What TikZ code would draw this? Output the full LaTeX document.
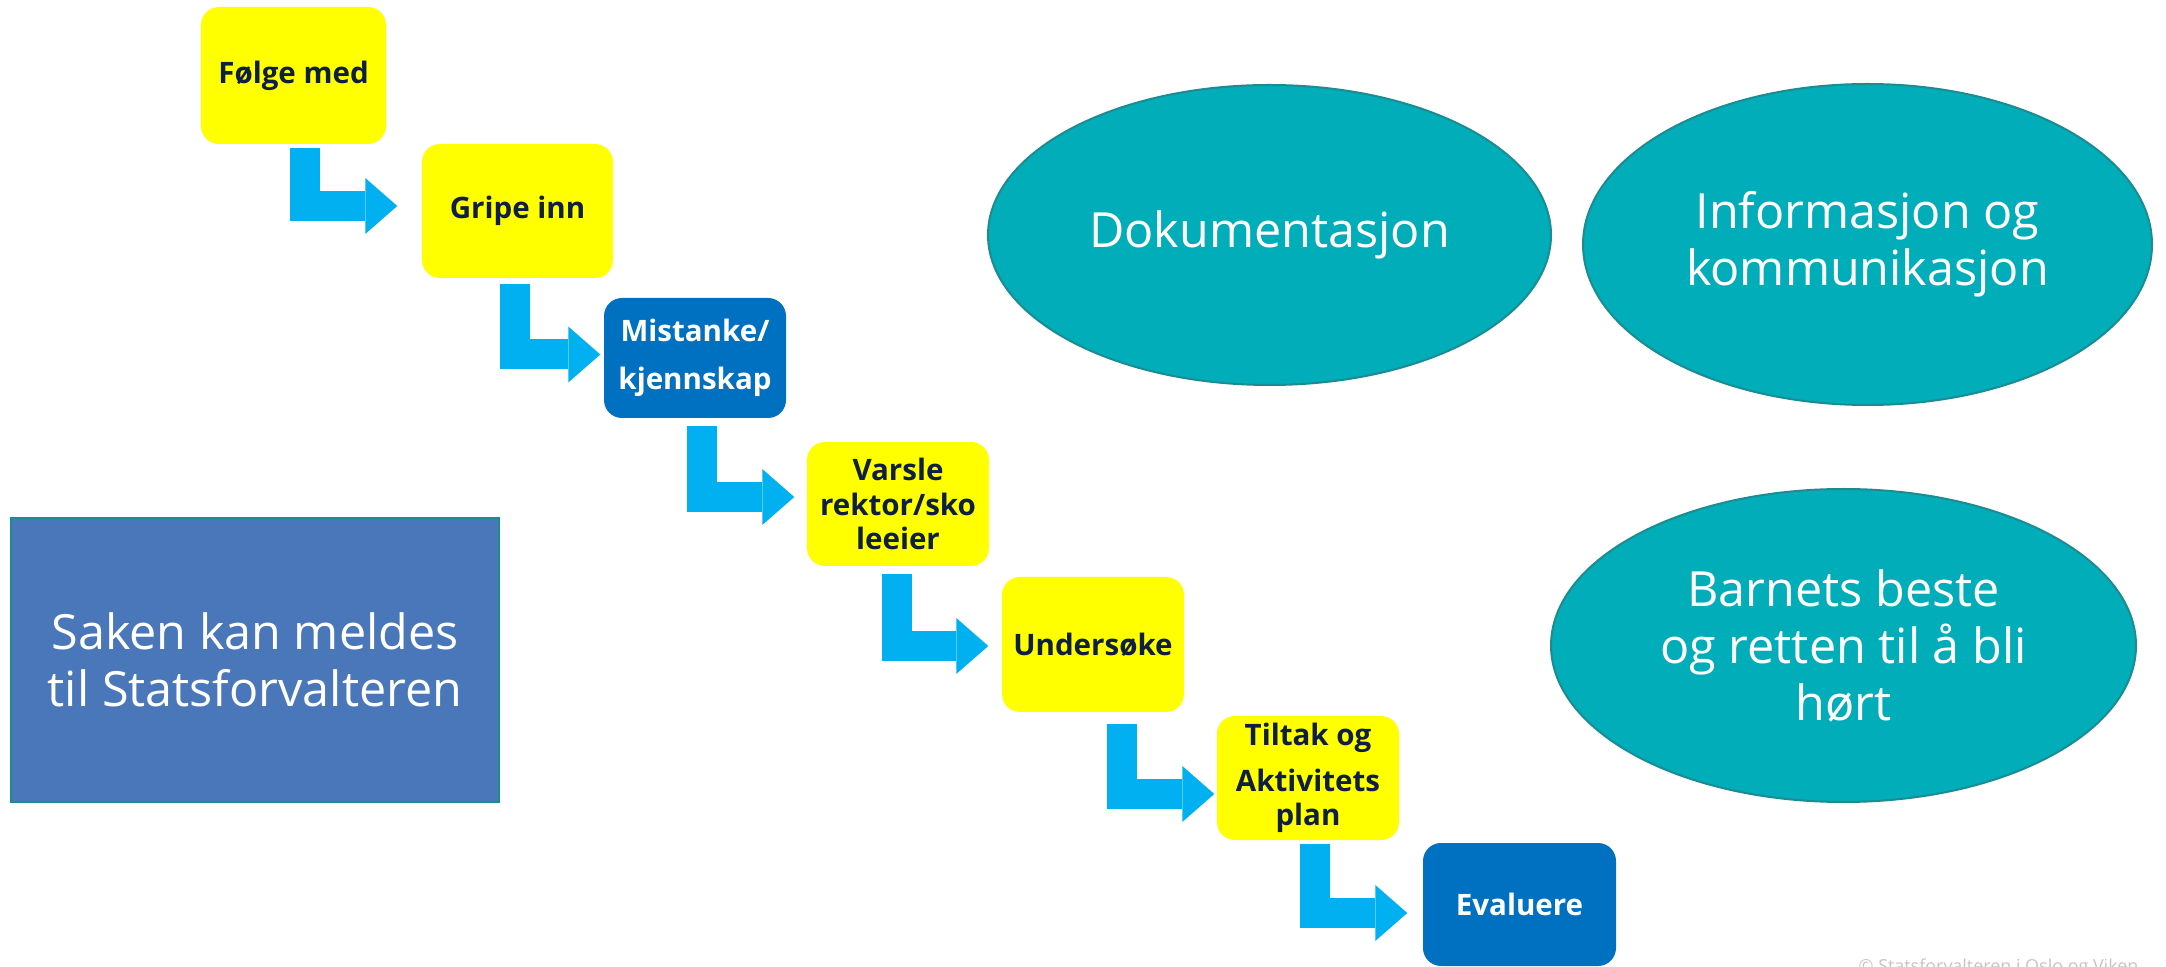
\documentclass[tikz,border=0pt]{standalone}
\usepackage{fontspec}
\setmainfont{Open Sans}
\usepackage{tikz}
\usetikzlibrary{arrows.meta}
\usetikzlibrary{shapes,calc}

\definecolor{stepyellow}{HTML}{FFFF00}
\definecolor{stepblue}{HTML}{0070C0}
\definecolor{flowblue}{HTML}{00B0F0}
\definecolor{navytext}{HTML}{0E1E45}
\definecolor{tealfill}{HTML}{00ADB9}
\definecolor{tealline}{HTML}{1A8C92}
\definecolor{meldfill}{HTML}{4A77B9}
\definecolor{marktext}{HTML}{C4C4C4}

\begin{document}
\begin{tikzpicture}[x=0.1mm,y=-0.1mm]
	\useasboundingbox (0,0) rectangle (2166,967);
	\tikzstyle{y-node}=[rectangle,rounded corners=1.8mm,fill=stepyellow,text=navytext,inner sep=0pt,align=center,minimum width=18.2mm,font=\fontsize{8.4}{9.8}\selectfont\bfseries]
	\tikzstyle{b-node}=[y-node,fill=stepblue,text=white]
	\tikzstyle{e-node}=[ellipse,fill=tealfill,draw=tealline,line width=0.2mm,inner sep=0pt,align=center,text=white,font=\fontsize{13.8}{16.2}\selectfont]
	\tikzstyle{flow}=[draw=flowblue,line width=3mm,line join=miter,-{Triangle[length=3.2mm,width=5.6mm,line width=0pt]}]

	% steps
	\node[y-node,minimum width=18.5mm,minimum height=13.7mm]	(folge)		at (293.5,75.5)		{Følge med};
	\node[y-node,minimum width=19.1mm,minimum height=13.4mm]	(gripe)		at (517.5,211)		{Gripe inn};
	\node[b-node,minimum height=12mm]				(mistanke)	at (695,358)		{Mistanke/\\[3.8pt]kjennskap};
	\node[y-node,minimum height=12.4mm]				(varsle)	at (898,504)		{Varsle\\rektor/sko\\leeier};
	\node[y-node,minimum height=13.5mm]				(undersoke)	at (1093,644.5)		{Undersøke};
	\node[y-node,minimum height=12.4mm]				(tiltak)	at (1308,778)		{Tiltak og\\[3.3pt]Aktivitets\\plan};
	\node[b-node,minimum width=19.3mm,minimum height=12.3mm]	(evaluere)	at (1519.5,904.5)	{Evaluere};

	% arrows
	\draw[flow] ($(folge.south)+(11.5,3)$)		|- ($(gripe.west)+(-24,-5)$);
	\draw[flow] ($(gripe.south)+(-2.5,5)$)		|- ($(mistanke.west)+(-3,-3.5)$);
	\draw[flow] ($(mistanke.south)+(7,7)$)		|- ($(varsle.west)+(-12,-7)$);
	\draw[flow] ($(varsle.south)+(-1.5,7)$)		|- ($(undersoke.west)+(-13,1.5)$);
	\draw[flow] ($(undersoke.south)+(29,11)$)	|- ($(tiltak.west)+(-2,16)$);
	\draw[flow] ($(tiltak.south)+(7,3)$)		|- ($(evaluere.west)+(-15,8.5)$);

	% side boxes
	\node[rectangle,fill=meldfill,draw=tealline,line width=0.2mm,inner sep=0pt,align=center,text=white,font=\fontsize{13.8}{16.2}\selectfont,minimum width=48.8mm,minimum height=28.4mm] (saken) at (255,660) {Saken kan meldes\\til Statsforvalteren};
	\node[e-node,minimum width=56.3mm,minimum height=30mm]		(dok)		at (1269.5,235)		{Dokumentasjon};
	\node[e-node,minimum width=56.9mm,minimum height=32.1mm]	(info)		at (1867.5,244.5)	{Informasjon og\\kommunikasjon};
	\node[e-node,minimum width=58.5mm,minimum height=31.3mm]	(barnets)	at (1843.5,645.5)	{Barnets beste\\og retten til å bli\\hørt};

	% footer
	\node[anchor=base west,inner sep=0pt,text=marktext,font=\fontsize{5.1}{6}\selectfont] (mark) at (1858,972) {© Statsforvalteren i Oslo og Viken};
\end{tikzpicture}
\end{document}
